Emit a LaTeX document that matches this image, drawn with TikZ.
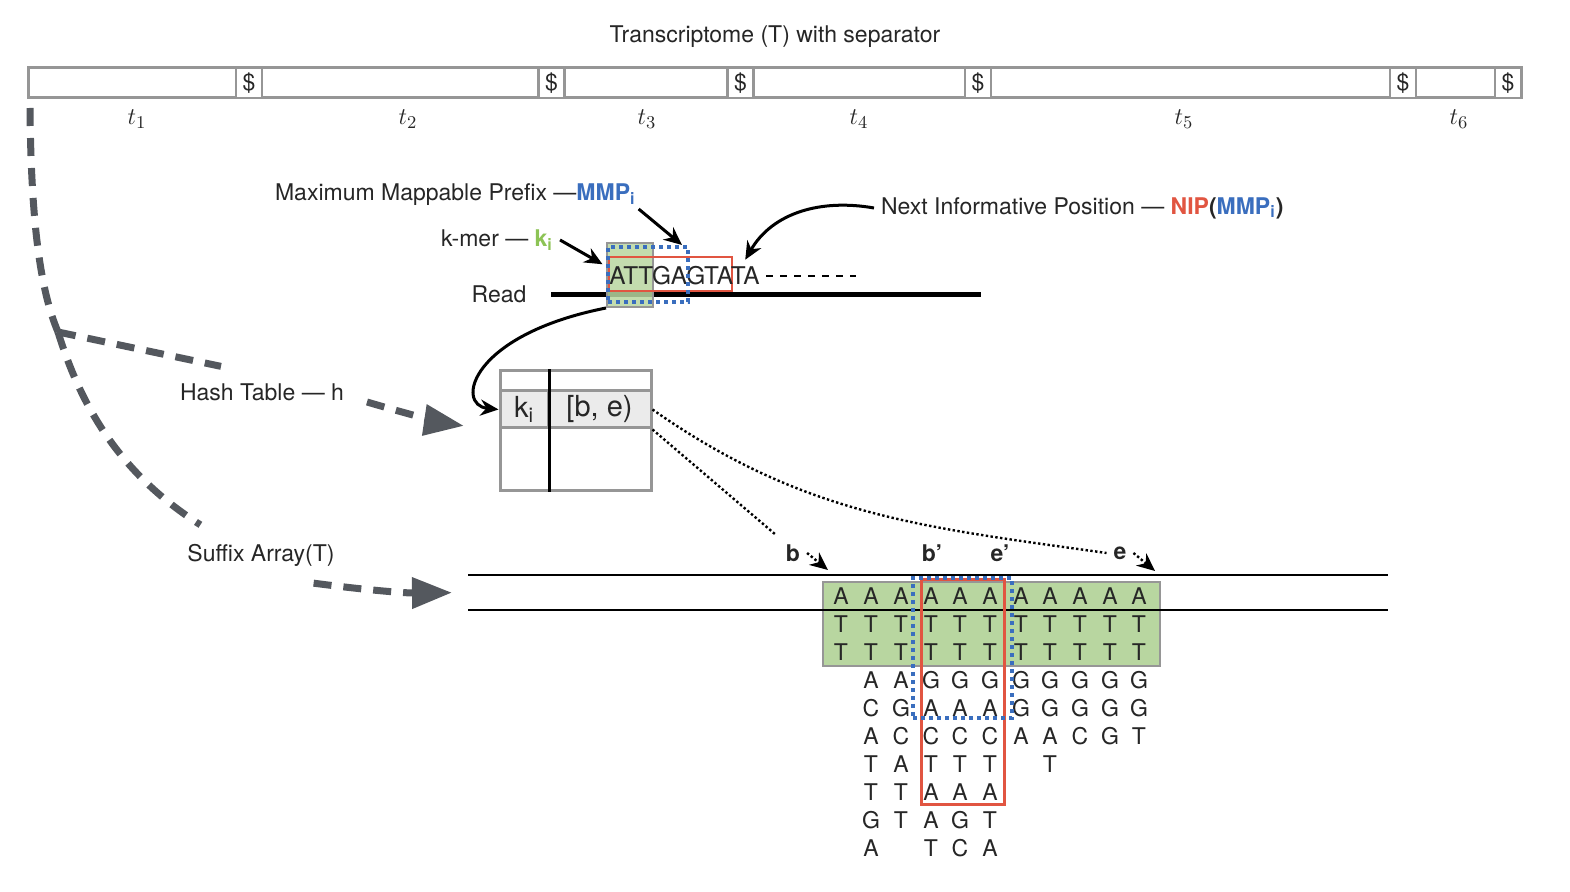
\documentclass[tikz,border=0pt]{standalone}
\usepackage{fontspec}
\setmainfont{TeX Gyre Heros}
\usepackage{tikz}
\usetikzlibrary{arrows.meta}
\definecolor{boxgray}{RGB}{150,150,150}
\definecolor{dashgray}{RGB}{84,88,94}
\definecolor{mmpblue}{RGB}{58,110,190}
\definecolor{nipred}{RGB}{225,85,65}
\definecolor{kgreen}{RGB}{140,195,85}
\definecolor{greenfill}{RGB}{184,214,160}
\tikzset{
barv1/.style={rectangle, draw=boxgray, fill=none, line width=1.5pt, inner sep=0pt, minimum width=746.5pt, minimum height=15pt},
sepcellv1/.style={rectangle, draw=boxgray, fill=white, line width=1.25pt, inner sep=0pt, minimum width=13pt, minimum height=15pt},
tlabelv1/.style={inner sep=0pt, font=\fontsize{12.5}{14}\selectfont},
kmerboxv1/.style={rectangle, draw=boxgray, fill=greenfill, fill opacity=0.85, line width=1pt, inner sep=0pt, minimum width=23pt, minimum height=32pt},
mmpboxv1/.style={rectangle, draw=mmpblue, line width=2pt, dash pattern=on 2pt off 2pt, inner sep=0pt, minimum width=40pt, minimum height=27.5pt},
nipboxv1/.style={rectangle, draw=nipred, line width=1.25pt, inner sep=0pt, minimum width=61.5pt, minimum height=17pt},
htframev1/.style={rectangle, draw=boxgray, line width=1.5pt, inner sep=0pt, minimum width=75.5pt, minimum height=60pt},
htcellv1/.style={rectangle, draw=boxgray, fill=black!8, line width=1.5pt, inner sep=0pt, minimum height=18.5pt, font=\fontsize{14.5}{16}\selectfont},
sacolv1/.style={anchor=north, align=center, inner sep=0pt},
saboxv1/.style={rectangle, draw=boxgray, fill=greenfill, line width=1pt, inner sep=0pt, minimum width=168.5pt, minimum height=42pt},
bigdashv1/.style={draw=dashgray, line width=3.5pt, dash pattern=on 9pt off 6pt},
blackarrowv1/.style={draw=black, line width=1.5pt, -{Stealth[length=9pt,width=8pt]}},
dotlinev1/.style={draw=black, line width=1.2pt, dash pattern=on 1.2pt off 1.2pt},
}

\begin{document}
\begin{tikzpicture}[x=0.5pt,y=-0.5pt,font=\fontsize{11.5}{14}\selectfont,text=black!85]
\useasboundingbox (0,0) rectangle (1570,892);
\node at (775,37) (title) {Transcriptome (T) with separator};
\node[barv1] at (774.5,83) (bar) {};
\node[sepcellv1] at (249,83) (s1) {\$};
\node[sepcellv1] at (551.5,83) (s2) {\$};
\node[sepcellv1] at (740.5,83) (s3) {\$};
\node[sepcellv1] at (978,83) (s4) {\$};
\node[sepcellv1] at (1403,83) (s5) {\$};
\node[sepcellv1] at (1508,83) (s6) {\$};
\node[tlabelv1] at (137,119) (t1) {$t_1$};
\node[tlabelv1] at (408,119) (t2) {$t_2$};
\node[tlabelv1] at (647,119) (t3) {$t_3$};
\node[tlabelv1] at (859,119) (t4) {$t_4$};
\node[tlabelv1] at (1184,119) (t5) {$t_5$};
\node[tlabelv1] at (1459,119) (t6) {$t_6$};
%read
\coordinate (readstart) at (551,295);
\coordinate (readend) at (981,295);
\draw[black, line width=2.5pt] (readstart) -- (readend);
\node at (499,294) (read) {Read};
\node[kmerboxv1] at (630,275) (kmer) {};
\node[nipboxv1] at (670.5,274) (nip) {};
\node[anchor=west, inner sep=0pt, font=\fontsize{12.2}{14}\selectfont] at (609,276) (seq) {ATTGAGTATA};
\node[mmpboxv1] at (648,274.5) (mmp) {};
\coordinate (seqend) at (856,276);
\draw[black, line width=0.75pt, dash pattern=on 3.5pt off 3.5pt] ([xshift=3pt]seq.east) -- (seqend);
\node[anchor=west] at (268,195) (mmplab) {Maximum Mappable Prefix —\textcolor{mmpblue}{\textbf{MMP\textsubscript{i}}}};
\node[anchor=west] at (434,240) (kmerlab) {k-mer — \textcolor{kgreen}{\textbf{k\textsubscript{i}}}};
\node[anchor=west] at (874,208) (niplab) {Next Informative Position — \textcolor{nipred}{\textbf{NIP}}\textbf{(\textcolor{mmpblue}{MMP\textsubscript{i}})}};
\draw[blackarrowv1] ([xshift=-2pt,yshift=2pt]mmplab.south east) -- ([xshift=-4pt]mmp.north east);
\draw[blackarrowv1, shorten >=2pt] (kmerlab.east) -- (kmer.160);
\draw[blackarrowv1] (niplab.west) to[out=170,in=60] ([xshift=6pt,yshift=-2pt]nip.north east);
%hash table
\node[htframev1] at (575.5,431) (ht) {};
\node[htcellv1, minimum width=24pt] at (524,409.5) (kicell) {k\textsubscript{i}};
\node[htcellv1, minimum width=51.5pt] at (599.5,409.5) (becell) {[b, e)};
\draw[black, line width=1.5pt] (kicell.north east |- ht.north) -- (kicell.south east |- ht.south);
\draw[blackarrowv1] (kmer.south west) .. controls (470,335) and (455,405) .. (kicell.west);
%suffix array
\node[saboxv1] at (991.5,624) (sagreen) {};
\coordinate (satopl) at (468,575);
\coordinate (satopr) at (1388,575);
\coordinate (sabotl) at (468,610);
\coordinate (sabotr) at (1388,610);
\draw[black, line width=1.25pt] (satopl) -- (satopr);
\draw[black, line width=1.25pt] (sabotl) -- (sabotr);
\node[sacolv1] at (841,587) (col1) {A\\T\\T};
\node[sacolv1] at (871,587) (col2) {A\\T\\T\\A\\C\\A\\T\\T\\G\\A};
\node[sacolv1] at (901,587) (col3) {A\\T\\T\\A\\G\\C\\A\\T\\T};
\node[sacolv1] at (931,587) (col4) {A\\T\\T\\G\\A\\C\\T\\A\\A\\T};
\node[sacolv1] at (960,587) (col5) {A\\T\\T\\G\\A\\C\\T\\A\\G\\C};
\node[sacolv1] at (990,587) (col6) {A\\T\\T\\G\\A\\C\\T\\A\\T\\A};
\node[sacolv1] at (1021,587) (col7) {A\\T\\T\\G\\G\\A};
\node[sacolv1] at (1050,587) (col8) {A\\T\\T\\G\\G\\A\\T};
\node[sacolv1] at (1080,587) (col9) {A\\T\\T\\G\\G\\C};
\node[sacolv1] at (1110,587) (col10) {A\\T\\T\\G\\G\\G};
\node[sacolv1] at (1139,587) (col11) {A\\T\\T\\G\\G\\T};
\node[nipboxv1, line width=1.5pt, minimum width=41.5pt, minimum height=112.5pt] at (962.5,692.5) (sanip) {};
\node[mmpboxv1, minimum width=49.5pt, minimum height=70pt] at (962.5,648) (sammp) {};
\node at (793,553) (blab) {\textbf{b}};
\node at (932,553) (bplab) {\textbf{b’}};
\node at (1000,553) (eplab) {\textbf{e’}};
\node at (1120,553) (elab) {\textbf{e}};
\coordinate (btip) at (828,570);
\coordinate (etip) at (1155,571);
\draw[dotlinev1] (becell.east) to[out=-35,in=172] (elab.west);
\draw[dotlinev1, shorten >=2pt] (becell.south east) -- (blab.north west);
\draw[dotlinev1, -{Stealth[length=9pt,width=8pt]}] (blab.east) -- (btip);
\draw[dotlinev1, -{Stealth[length=9pt,width=8pt]}] (elab.east) -- (etip);
%index arrows
\coordinate (src) at (30,108);
\coordinate (fork) at (58,332);
\coordinate (sa) at (468,592.5);
\node at (262,392) (htlab) {Hash Table — h};
\node at (261,555) (salab) {Suffix Array(T)};
\draw[bigdashv1] (src) .. controls (31,220) and (40,290) .. (fork);
\draw[bigdashv1] (fork) -- ([xshift=24pt,yshift=5pt]htlab.north west);
\draw[bigdashv1] (fork) .. controls (85,420) and (130,480) .. ([xshift=10pt,yshift=6pt]salab.north west);
\draw[bigdashv1, shorten >=17.5pt, -{Triangle[length=20pt,width=15pt]}] ([xshift=8pt,yshift=-5pt]htlab.east) to[bend right=4] (ht.west);
\draw[bigdashv1, shorten >=8pt, -{Triangle[length=20pt,width=15pt]}] ([xshift=-14pt,yshift=-5pt]salab.south east) to[bend right=4] (sa);
\end{tikzpicture}
\end{document}
